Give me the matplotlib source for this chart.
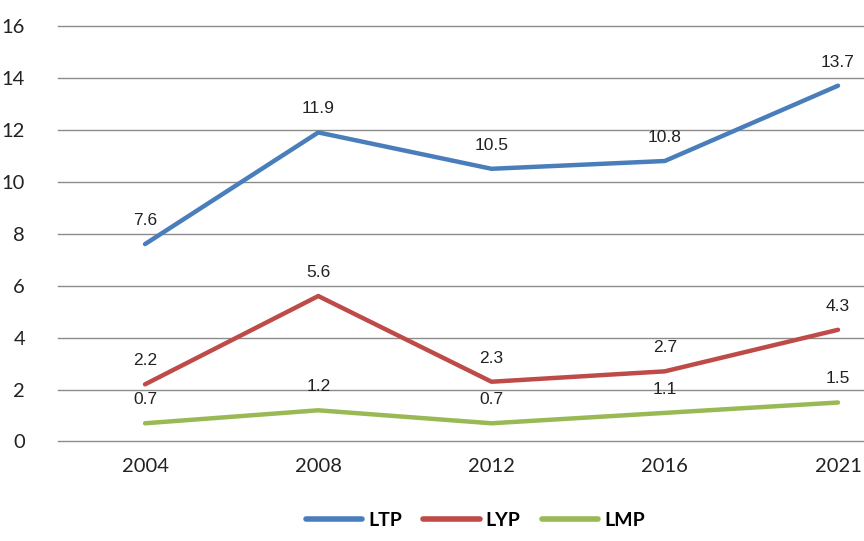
import matplotlib

matplotlib.use("Agg")

import matplotlib.pyplot as plt  # noqa: E402
import numpy as np  # noqa: E402

years = ["2004", "2008", "2012", "2016", "2021"]
ltp = [7.6, 11.9, 10.5, 10.8, 13.7]
lyp = [2.2, 5.6, 2.3, 2.7, 4.3]
lmp = [0.7, 1.2, 0.7, 1.1, 1.5]

series = [("LTP", ltp, "#4A7EBB"), ("LYP", lyp, "#BE4B48"), ("LMP", lmp, "#98B954")]

fig = plt.figure(figsize=(8.64, 5.41), dpi=100)
ax = fig.add_axes([0.0676, 0.184, 0.9324, 0.768])
xs = np.arange(len(years))

for name, vals, col in series:
    ax.plot(xs, vals, color=col, linewidth=3.2, label=name, solid_capstyle="round")
    for x, v in zip(xs, vals):
        ax.annotate(f"{v}", (x, v), xytext=(0, 17), textcoords="offset points",
                    ha="center", va="center", fontsize=12.5, color="#222222",
                    family="Liberation Sans")

ax.set_xlim(-0.5, 4.15)
ax.set_ylim(0, 16)
ax.set_yticks(np.arange(0, 17, 2))
ax.set_xticks(xs)
ax.set_xticklabels(years)
ax.tick_params(length=0, labelsize=14.5, colors="#222222", pad=12)
for lbl in ax.get_xticklabels() + ax.get_yticklabels():
    lbl.set_family("Lato")
ax.tick_params(axis="y", pad=24)
ax.grid(True, axis="y", color="#8c8c8c", linewidth=1.0)
for gl in ax.get_ygridlines():
    gl.set_clip_on(False)
ax.set_axisbelow(True)
for s in ax.spines.values():
    s.set_visible(False)

leg = fig.legend(loc="lower center", bbox_to_anchor=(0.55, -0.01), ncol=3, frameon=False,
                 handlelength=2.9, columnspacing=1.1, handletextpad=0.3,
                 prop={"family": "Lato", "size": 14, "weight": "bold"})
for h in leg.get_lines():
    h.set_linewidth(4)

fig.savefig("out.png", dpi=100)
plt.close(fig)
